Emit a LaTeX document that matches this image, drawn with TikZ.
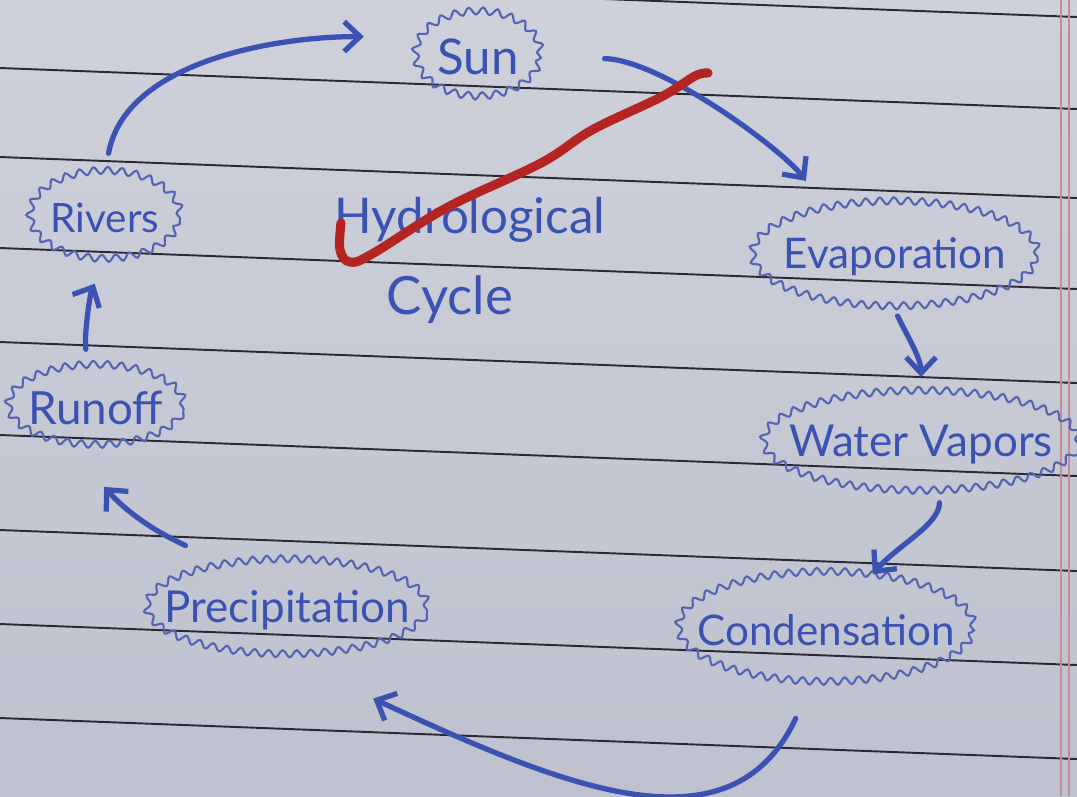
\documentclass[tikz,border=0pt]{standalone}
\usepackage{fontspec}
\setmainfont{Lato}
\usetikzlibrary{arrows.meta,decorations.pathmorphing,shapes.geometric}

\definecolor{paperlight}{RGB}{206,209,218}
\definecolor{paperdark}{RGB}{190,194,206}
\definecolor{rulegray}{RGB}{42,42,50}
\definecolor{marginpink}{RGB}{196,140,150}
\definecolor{ink}{RGB}{60,82,178}
\definecolor{inklight}{RGB}{84,100,178}
\definecolor{redpen}{RGB}{180,36,34}

\tikzset{
  puff/.style={ellipse, draw=inklight, line width=0.6pt, decorate,
    decoration={snake, amplitude=1pt, segment length=4pt}, text=ink, inner sep=0pt},
  flow/.style={draw=ink, line width=1.5pt, line cap=round,
    -{Straight Barb[length=4.5pt,width=8.5pt]}},
  ruling/.style={draw=rulegray, line width=0.55pt},
  title/.style={text=ink, font=\fontsize{14}{16}\selectfont}
}

\begin{document}
\begin{tikzpicture}[x=0.01cm, y=-0.01cm]
\useasboundingbox (0,0) rectangle (1077,796);
% the paper
\shade[top color=paperlight, bottom color=paperdark] (0,0) rectangle (1077,796);
\foreach \y in {-24,68,157,248,342,435,530,624,718}
	\draw[ruling] (0,\y) -- (1077,\y+41);
\draw[marginpink, line width=0.6pt] (1061,0) -- (1061,796);
\draw[marginpink, line width=0.6pt] (1069,0) -- (1069,796);
% end of paper
% the clouds
\node[puff, minimum width=1.25cm, minimum height=0.85cm, font=\fontsize{14}{16}\selectfont] (sun) at (478,57) {\makebox[0pt]{Sun}};
\node[puff, minimum width=2.85cm, minimum height=1.05cm, font=\fontsize{12}{14}\selectfont] (evap) at (895,257) {\makebox[0pt]{Evaporation}};
\node[puff, minimum width=3.15cm, minimum height=1.00cm, font=\fontsize{12.5}{14}\selectfont] (vapors) at (921,444) {\makebox[0pt]{Water Vapors}};
\node[puff, minimum width=2.95cm, minimum height=1.10cm, font=\fontsize{12}{14}\selectfont] (cond) at (826,630) {\makebox[0pt]{Condensation}};
\node[puff, minimum width=2.80cm, minimum height=0.95cm, font=\fontsize{12.5}{14}\selectfont] (precip) at (287,610) {\makebox[0pt]{Precipitation}};
\node[puff, minimum width=1.75cm, minimum height=0.80cm, font=\fontsize{13}{15}\selectfont] (runoff) at (96,408) {\makebox[0pt]{Runoff}};
\node[puff, minimum width=1.50cm, minimum height=0.88cm, font=\fontsize{11.5}{14}\selectfont] (rivers) at (105,218) {\makebox[0pt]{Rivers}};
% middle
\node[title] (hydro) at (470,220) {Hydrological};
\node[title, font=\fontsize{15}{17}\selectfont] (cycle) at (450,300) {Cycle};
% the arrows
\draw[flow, shorten <=0.20cm, shorten >=0.58cm] (rivers.north) .. controls +(20,-110) and +(-150,0) .. (sun.160);
\draw[flow, shorten <=0.63cm, shorten >=0.36cm] (sun.east) .. controls +(120,3) and +(-45,-60) .. (evap.145);
\draw[flow, shorten <=0.06cm, shorten >=0.16cm] (evap.south) .. controls +(12,25) and +(0,-35) .. (vapors.north);
\draw[flow, shorten <=0.08cm, shorten >=0.03cm] (vapors.290) .. controls +(0,30) and +(25,-30) .. (cond.50);
\draw[flow, shorten <=0.36cm, shorten >=0.95cm] (cond.255) .. controls +(-80,170) and +(280,130) .. (precip.south);
\draw[flow, shorten <=0.46cm, shorten >=0.54cm] (precip.144) .. controls +(-50,-25) and +(70,77) .. (runoff.234);
\draw[flow, shorten <=0.18cm, shorten >=0.23cm] (runoff.100) .. controls +(-5,-30) and +(-15,30) .. (rivers.south);
% end of arrows
% red stroke over the title
\draw[redpen, line width=2.6pt, line cap=round, line join=round] plot[smooth, tension=0.6] coordinates
	{(341,223) (340,250) (350,262) (372,254) (448,207) (541,163) (592,130) (661,97) (695,76) (708,73)};
\end{tikzpicture}
\end{document}
